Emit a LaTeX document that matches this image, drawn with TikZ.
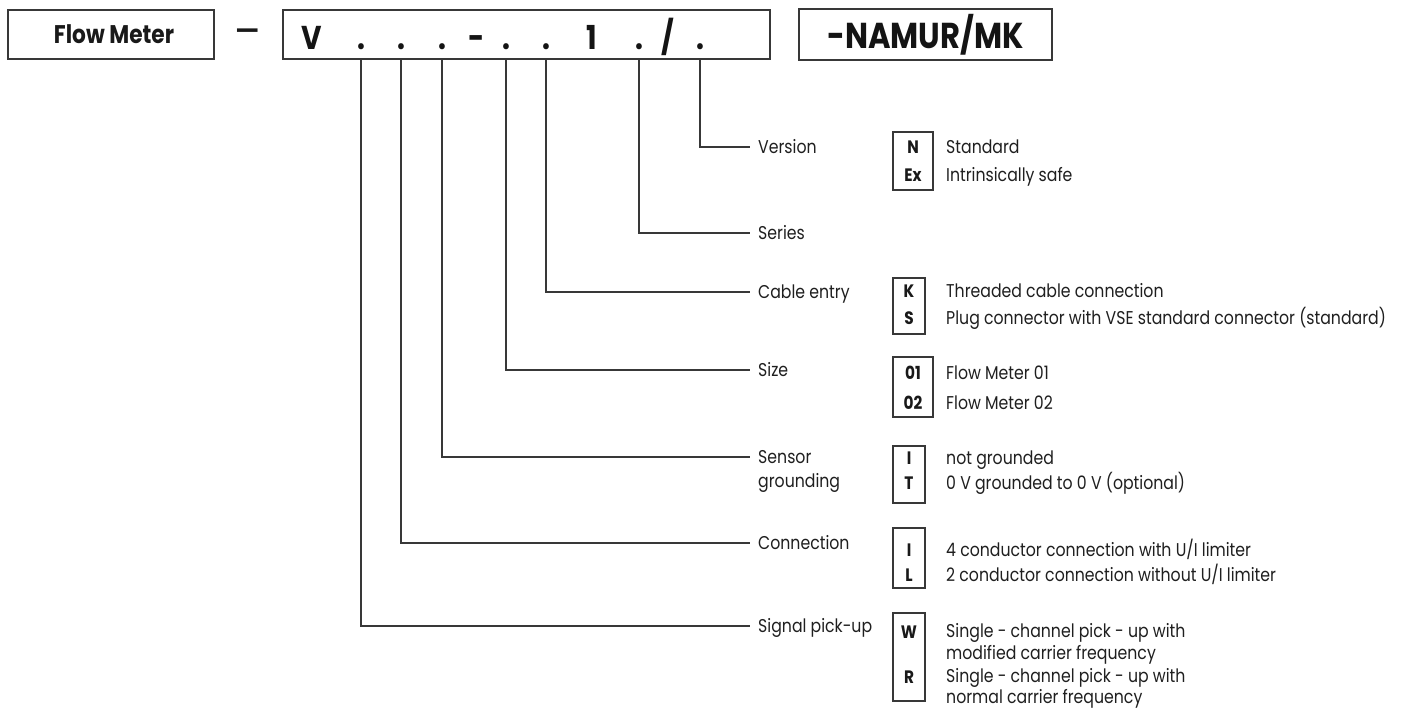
\documentclass[tikz,border=0pt]{standalone}
\usepackage{fontspec}
\setmainfont{Poppins}[FakeStretch=0.85]
\begin{document}
\begin{tikzpicture}[x=1pt,y=-1pt,
  ln/.style={draw=black!78, line width=1.3pt},
  bx/.style={draw=black!78, line width=1.3pt, inner sep=0pt},
  lab/.style={font=\fontsize{18.5}{20}\selectfont, text=black!88, anchor=west, inner xsep=8pt, inner ysep=0pt, text height=13pt, text depth=0pt},
  desc/.style={font=\fontsize{18.5}{20}\selectfont, text=black!88, anchor=west, inner sep=0pt, text height=13pt, text depth=0pt},
  code/.style={font=\bfseries\fontsize{18}{20}\selectfont, text=black!90, inner sep=0pt, text height=12.6pt, text depth=0pt},
  big/.style={font=\bfseries\fontsize{33}{36}\selectfont, text=black!92, anchor=base, inner sep=0pt},
]
\useasboundingbox (0,0) rectangle (1404,709);

% top row
\node[bx, minimum width=206pt, minimum height=49pt, font=\bfseries\fontsize{25.5}{27}\selectfont, text=black!90] (fm) at (111,34.5) {\hspace*{6pt}Flow Meter};
\node[font=\fontsize{46}{48}\selectfont, text=black!90, inner sep=0pt, anchor=base] (dash) at (248,48) {–};
\node[bx, minimum width=487pt, minimum height=49pt] (main) at (526.5,34.5) {};
\node[bx, minimum width=253pt, minimum height=51pt, font=\bfseries\fontsize{36}{38}\selectfont, text=black!92] (namur) at (925.5,34.5) {-NAMUR/MK};

\node[big] (cV) at (312,50) {V};
\node[big] (d1) at (361,50) {.};
\node[big] (d2) at (401,50) {.};
\node[big] (d3) at (442,50) {.};
\node[big] (cm) at (477,50) {-};
\node[big] (d4) at (506,50) {.};
\node[big] (d5) at (546,50) {.};
\node[big] (c1) at (592,50) {1};
\node[big] (d6) at (639,50) {.};
\node[big] (cs) at (668,50) {/};
\node[big] (d7) at (700,50) {.};

% labels
\node[lab] (lver) at (750,147) {Version};
\node[lab] (lser) at (750,233) {Series};
\node[lab] (lcab) at (750,292) {Cable entry};
\node[lab] (lsiz) at (750,370) {Size};
\node[lab] (lsen) at (750,457) {Sensor};
\node[lab] (lsen2) at (750,481) {grounding};
\node[lab] (lcon) at (750,543) {Connection};
\node[lab] (lsig) at (750,626) {Signal pick-up};

% connectors
\draw[ln] (d7 |- main.south) |- (lver.west);
\draw[ln] (d6 |- main.south) |- (lser.west);
\draw[ln] (d5 |- main.south) |- (lcab.west);
\draw[ln] (d4 |- main.south) |- (lsiz.west);
\draw[ln] (d3 |- main.south) |- (lsen.west);
\draw[ln] (d2 |- main.south) |- (lcon.west);
\draw[ln] (d1 |- main.south) |- (lsig.west);

% code boxes
\node[bx, minimum width=40pt, minimum height=58pt] (bver) at (913,161) {};
\node[code] (kN) at (913,147) {N};
\node[code] (kEx) at (913,175) {Ex};
\node[desc] (tN) at (946,147) {Standard};
\node[desc] (tEx) at (946,175) {Intrinsically safe};

\node[bx, minimum width=32pt, minimum height=56pt] (bcab) at (909,306) {};
\node[code] (kK) at (909,291) {K};
\node[code] (kS) at (909,318) {S};
\node[desc] (tK) at (946,291) {Threaded cable connection};
\node[desc] (tS) at (946,318) {Plug connector with VSE standard connector (standard)};

\node[bx, minimum width=40pt, minimum height=60pt] (bsiz) at (913,387) {};
\node[code] (k01) at (913,373) {01};
\node[code] (k02) at (913,403) {02};
\node[desc] (t01) at (946,373) {Flow Meter 01};
\node[desc] (t02) at (946,403) {Flow Meter 02};

\node[bx, minimum width=32pt, minimum height=57pt] (bsen) at (909,474.5) {};
\node[code] (kI) at (909,458) {I};
\node[code] (kT) at (909,483) {T};
\node[desc] (tI) at (946,458) {not grounded};
\node[desc] (tT) at (946,483) {0 V grounded to 0 V (optional)};

\node[bx, minimum width=32pt, minimum height=60pt] (bcon) at (909,558) {};
\node[code] (kI2) at (909,550) {I};
\node[code] (kL) at (909,575) {L};
\node[desc] (tI2) at (946,550) {4 conductor connection with U/I limiter};
\node[desc] (tL) at (946,575) {2 conductor connection without U/I limiter};

\node[bx, minimum width=32pt, minimum height=88pt] (bsig) at (909,657) {};
\node[code] (kW) at (909,632) {W};
\node[code] (kR) at (909,677) {R};
\node[desc] (tW) at (946,631) {Single - channel pick - up with};
\node[desc] (tW2) at (946,653) {modified carrier frequency};
\node[desc] (tR) at (946,676) {Single - channel pick - up with};
\node[desc] (tR2) at (946,697) {normal carrier frequency};
\end{tikzpicture}
\end{document}
